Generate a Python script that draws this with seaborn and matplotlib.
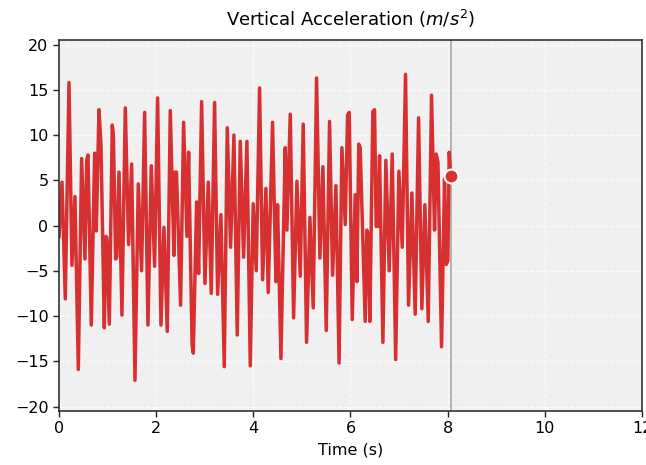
import numpy as np
import pandas as pd
import matplotlib
matplotlib.use("Agg")
import matplotlib.pyplot as plt
import seaborn as sns

time_s = [0.0, 0.062, 0.130, 0.206, 0.267, 0.329, 0.398, 0.466, 0.535, 0.570, 0.597,
          0.665, 0.734, 0.768, 0.823, 0.864, 0.933, 0.967, 0.985, 1.036, 1.097, 1.120,
          1.166, 1.190, 1.235, 1.296, 1.365, 1.433, 1.495, 1.564, 1.632, 1.700, 1.763,
          1.831, 1.900, 1.968, 2.030, 2.099, 2.160, 2.229, 2.291, 2.366, 2.390, 2.418,
          2.503, 2.565, 2.634, 2.668, 2.740, 2.764, 2.833, 2.874, 2.936, 3.004, 3.073,
          3.134, 3.203, 3.265, 3.333, 3.402, 3.464, 3.532, 3.601, 3.669, 3.731, 3.800,
          3.868, 3.937, 3.998, 4.060, 4.129, 4.191, 4.259, 4.307, 4.396, 4.465, 4.499,
          4.568, 4.657, 4.691, 4.760, 4.829, 4.897, 4.966, 5.027, 5.096, 5.165, 5.233,
          5.302, 5.370, 5.432, 5.501, 5.569, 5.631, 5.700, 5.765, 5.823, 5.892, 5.940,
          5.974, 6.036, 6.097, 6.132, 6.170, 6.200, 6.303, 6.337, 6.360, 6.399, 6.460,
          6.495, 6.529, 6.560, 6.598, 6.667, 6.728, 6.797, 6.859, 6.930, 6.996, 7.065,
          7.133, 7.195, 7.263, 7.332, 7.401, 7.469, 7.531, 7.600, 7.668, 7.730, 7.764,
          7.800, 7.874, 7.936, 7.970, 8.004, 8.032, 8.064]
accel = [-1.3, 4.8, -8.1, 15.8, -4.4, 3.2, -15.9, 7.4, -3.7, 7.2, 7.8,
         -11.0, 8.0, -0.6, 12.8, 9.0, -11.3, -1.2, -1.4, -10.9, 11.1, 10.0,
         -3.7, -3.5, 5.9, -9.9, 13.0, -2.1, 6.8, -17.1, 4.6, -5.0, 12.5,
         -11.0, 6.6, -4.5, 14.1, -11.0, -0.2, -11.7, 12.7, -3.3, 5.9, 5.9,
         -8.8, 11.4, -1.2, 8.1, -13.2, -14.1, 2.6, -5.3, 13.7, -6.4, 4.8,
         -7.5, 13.6, -7.6, 1.2, -15.6, 10.8, -2.4, 10.0, -12.1, 9.3, -3.5,
         9.3, -15.5, 2.4, -5.0, 15.2, -6.0, 4.1, -7.4, 11.4, -6.2, 2.3,
         -14.7, 8.6, -0.5, 12.3, -10.2, 4.9, -5.6, 11.2, -12.9, 0.9, -9.1,
         16.3, -3.6, 6.5, -11.6, 11.5, -5.5, 4.4, -15.2, 8.6, 0.1, 12.2,
         12.5, -10.4, 3.4, -6.2, 9.0, 8.6, -10.6, -0.5, -0.9, -10.6, 12.6,
         12.8, -0.1, -0.1, 7.7, -12.9, 7.2, -5.0, 7.9, -14.8, 6.0, -2.4,
         16.7, -8.8, 3.6, -9.8, 11.9, -9.2, 2.3, -10.6, 14.4, -0.5, 7.9,
         7.0, -13.4, 5.2, -4.3, -3.9, 8.1, 5.5]

df = pd.DataFrame({"Time (s)": time_s, "accel": accel})

sns.set_theme(style="white")
plt.rcParams['font.family'] = ['DejaVu Sans']
plt.rcParams['text.color'] = 'black'
plt.rcParams['axes.labelcolor'] = 'black'
plt.rcParams['xtick.color'] = 'black'
plt.rcParams['ytick.color'] = 'black'

fig = plt.figure(figsize=(6.46, 4.65), dpi=100)
ax = fig.add_axes([0.0913, 0.116, 0.9025, 0.798])
ax.set_facecolor("#f0f0f0")

line_color = "#d63031"
sns.lineplot(data=df, x="Time (s)", y="accel", ax=ax, color=line_color,
             linewidth=2.5, estimator=None, sort=False)
ax.plot(time_s[-1], accel[-1], "o", color=line_color, markersize=10,
        markeredgecolor="white", markeredgewidth=1.5, zorder=5)
ax.axvline(time_s[-1], color="#a8a8a8", linewidth=1.2, zorder=1)

ax.set_xlim(0, 12)
ax.set_ylim(-20.5, 20.5)
ax.set_xticks(range(0, 13, 2))
ax.set_yticks(range(-20, 21, 5))
ax.grid(True, color="white", linestyle="--", linewidth=0.9, alpha=0.8)
ax.set_axisbelow(True)
ax.set_xlabel("Time (s)", fontsize=11.5, color="black")
ax.set_ylabel("")
ax.set_title("Vertical Acceleration ($m/s^2$)", fontsize=13, pad=10, color="black")
ax.tick_params(axis="both", labelsize=11.5, length=4, width=1, color="#222222",
               labelcolor="black", direction="out", bottom=True, left=True)
for s in ax.spines.values():
    s.set_color("#333333")
    s.set_linewidth(1.2)

fig.savefig("out.png", dpi=100)
